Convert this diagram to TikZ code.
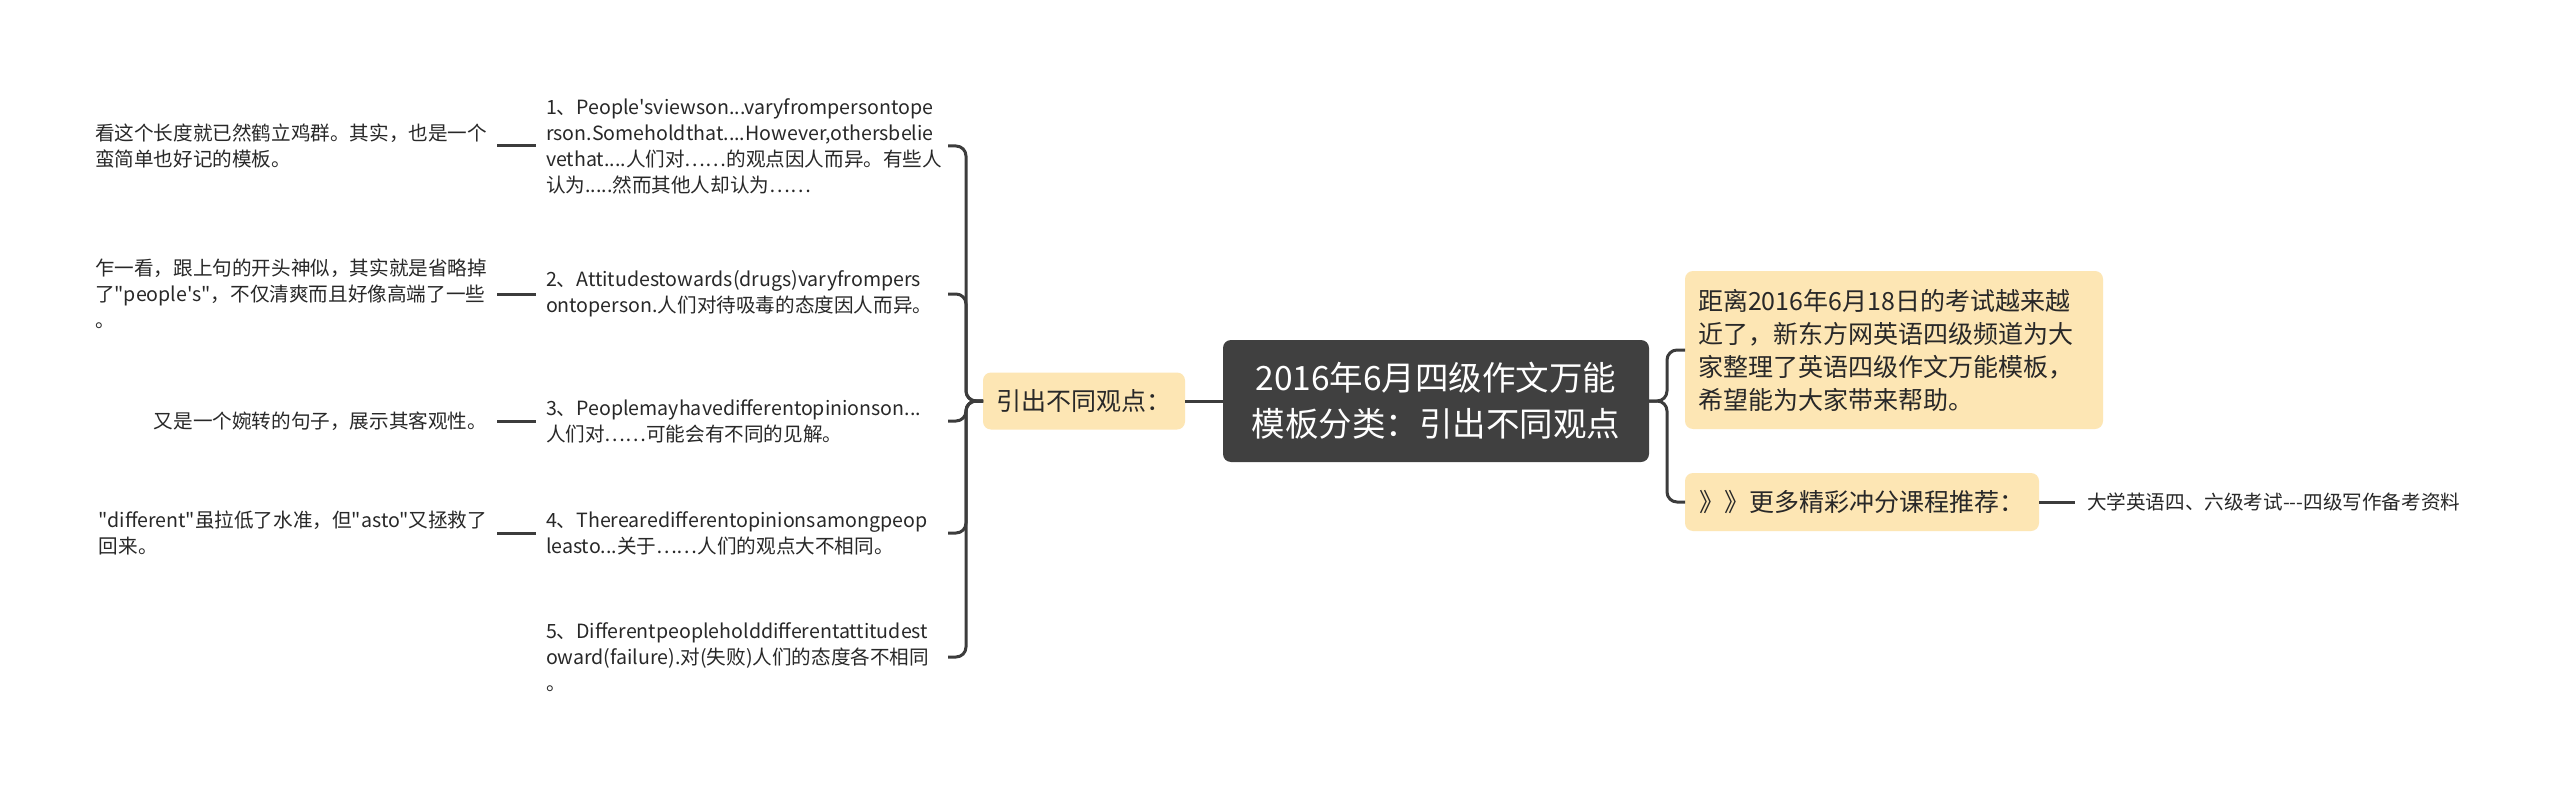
\documentclass[tikz,border=0pt]{standalone}
\usepackage{fontspec}
\newfontfamily\cjk{Noto Sans CJK SC}
\definecolor{rootfill}{RGB}{64,64,64}
\definecolor{orangefill}{RGB}{253,230,180}
\definecolor{txt}{RGB}{40,40,40}
\definecolor{edge}{RGB}{60,60,60}
\begin{document}
\begin{tikzpicture}[x=1pt,y=-1pt,
  every node/.style={inner sep=0pt, outer sep=0pt},
  rootbox/.style={fill=rootfill, rounded corners=8pt, text=white, font={\cjk\fontsize{33.5}{46}\selectfont}, minimum width=426pt, minimum height=122pt, align=center},
  orangebox/.style={fill=orangefill, rounded corners=8pt, text=txt, font={\cjk\fontsize{25}{33}\selectfont}, align=left, inner xsep=13pt},
  smalltext/.style={text=txt, font={\cjk\fontsize{19.6}{26}\selectfont}, align=left, inner xsep=10pt, inner ysep=4pt},
  conn/.style={draw=edge, line width=3pt, rounded corners=10pt}
]
\fill[white] (0,0) rectangle (2560,789);
\useasboundingbox (0,0) rectangle (2560,789);

\node[rootbox] (root) at (1436,401) {2016年6月四级作文万能\\模板分类：引出不同观点};
\node[orangebox, minimum width=202pt, minimum height=57pt] (yin) at (1084,401) {引出不同观点：};

\node[smalltext, anchor=west, text width=392pt] (c1) at (536,146) {1、People'sviewson...varyfrompersontope\\rson.Someholdthat....However,othersbelie\\vethat....人们对……的观点因人而异。有些人\\认为.....然而其他人却认为……};
\node[smalltext, anchor=west, text width=392pt] (c2) at (536,294) {2、Attitudestowards(drugs)varyfrompers\\ontoperson.人们对待吸毒的态度因人而异。};
\node[smalltext, anchor=west, text width=392pt] (c3) at (536,421) {3、Peoplemayhavedifferentopinionson...\\人们对……可能会有不同的见解。};
\node[smalltext, anchor=west, text width=392pt] (c4) at (536,533) {4、Therearedifferentopinionsamongpeop\\leasto...关于……人们的观点大不相同。};
\node[smalltext, anchor=west, text width=392pt] (c5) at (536,657) {5、Differentpeopleholddifferentattitudest\\oward(failure).对(失败)人们的态度各不相同\\。};

\node[smalltext, anchor=east] (a) at (497,146) {看这个长度就已然鹤立鸡群。其实，也是一个\\蛮简单也好记的模板。};
\node[smalltext, anchor=east] (b) at (497,294) {乍一看，跟上句的开头神似，其实就是省略掉\\了"people's"，不仅清爽而且好像高端了一些\\。};
\node[smalltext, anchor=east] (c) at (497,421) {又是一个婉转的句子，展示其客观性。};
\node[smalltext, anchor=east] (d) at (497,533) {"different"虽拉低了水准，但"asto"又拯救了\\回来。};

\node[orangebox, anchor=west, minimum height=158pt, text width=392pt] (r1) at (1685,350) {距离2016年6月18日的考试越来越\\近了，新东方网英语四级频道为大\\家整理了英语四级作文万能模板，\\希望能为大家带来帮助。};
\node[orangebox, anchor=west, minimum height=58pt, minimum width=354pt, inner xsep=10pt] (r2) at (1685,502) {》》更多精彩冲分课程推荐：};
\node[smalltext, anchor=west, inner xsep=12pt] (leaf) at (2075,502) {大学英语四、六级考试---四级写作备考资料};

\draw[conn] (root.west) -- (yin.east);
\foreach \c in {c1,c2,c3,c4,c5} \draw[conn] (yin.west) -- ++(-17,0) |- (\c.east);
\draw[conn] (a.east) -- (c1.west);
\draw[conn] (b.east) -- (c2.west);
\draw[conn] (c.east) -- (c3.west);
\draw[conn] (d.east) -- (c4.west);
\draw[conn] (root.east) -- ++(18,0) |- (r1.west);
\draw[conn] (root.east) -- ++(18,0) |- (r2.west);
\draw[conn] (r2.east) -- (leaf.west);
\end{tikzpicture}
\end{document}
